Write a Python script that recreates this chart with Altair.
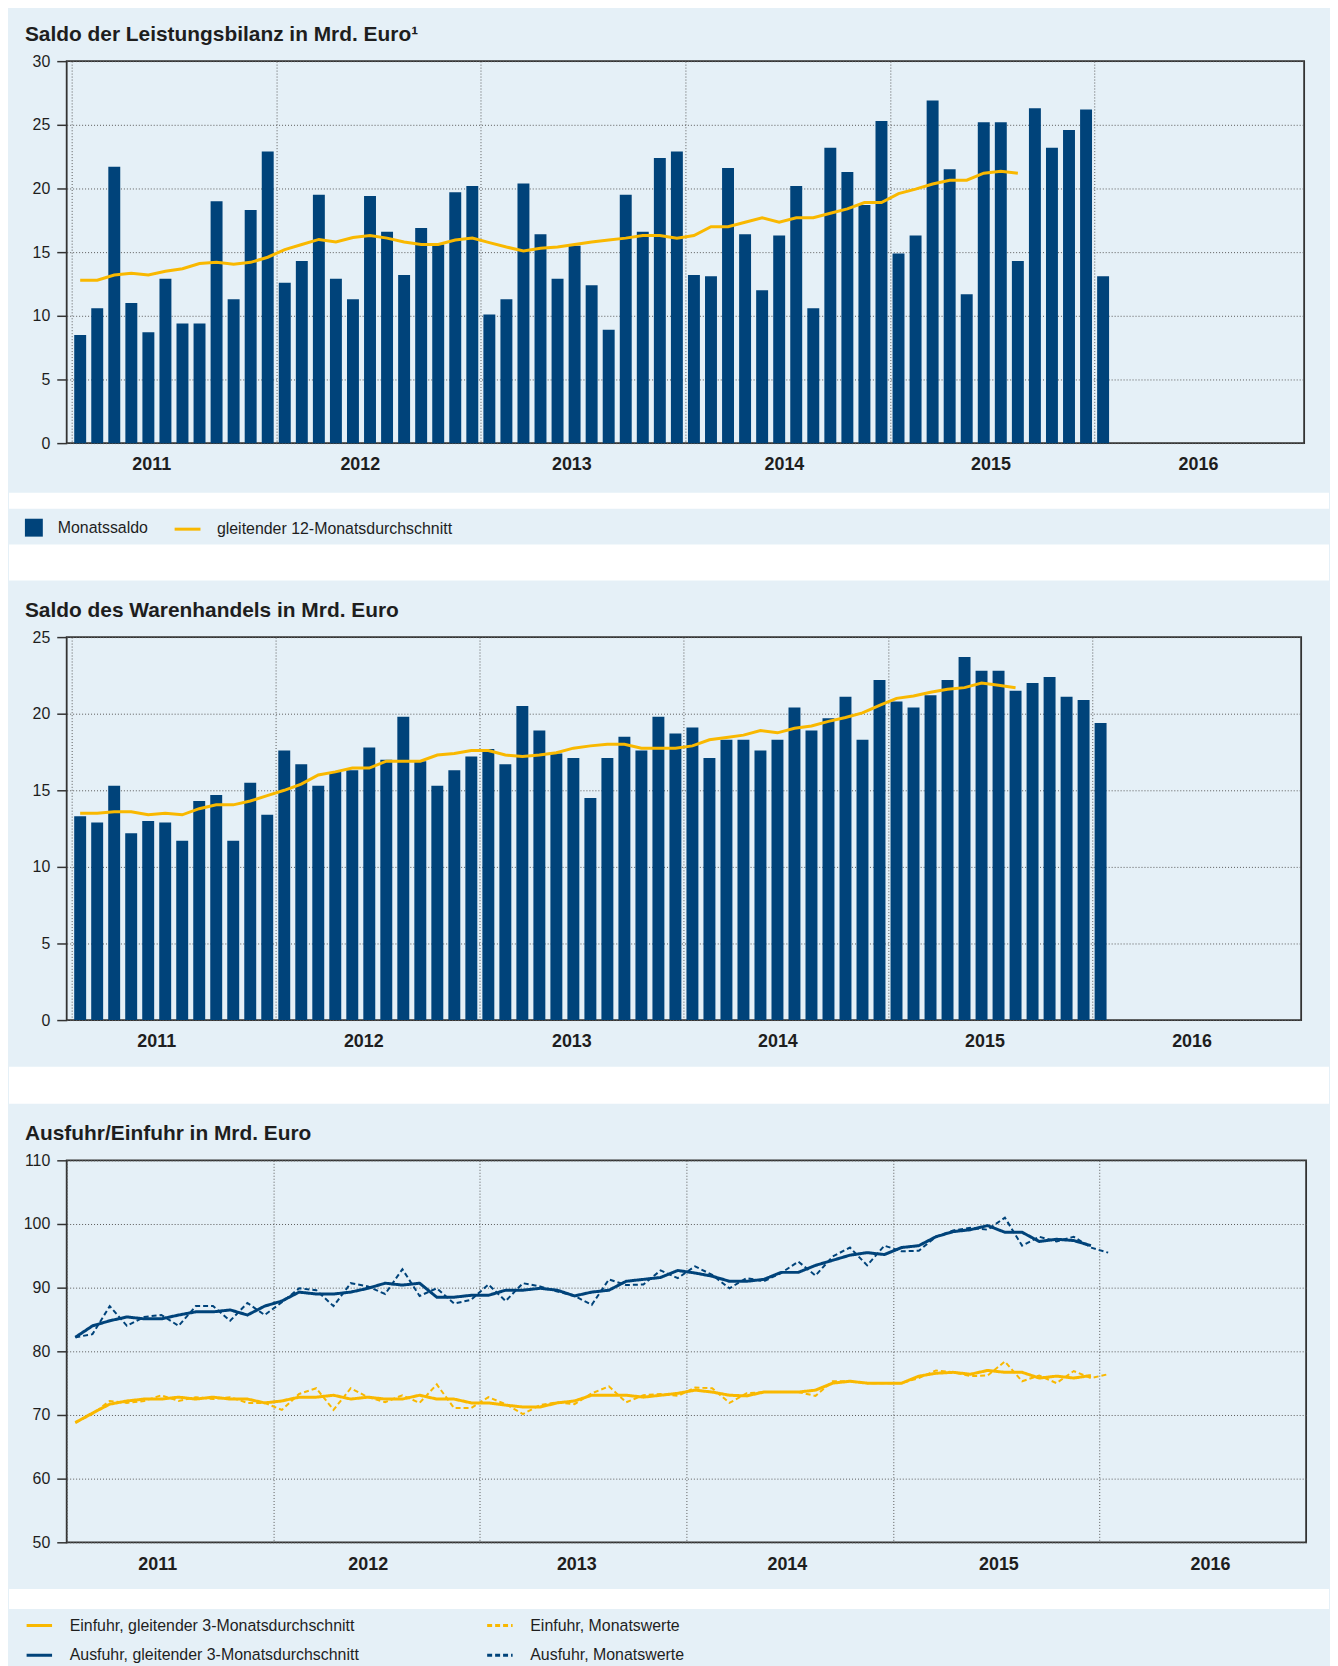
import altair as alt
import pandas as pd

# ---------------- colours / fonts ----------------
BLUE = "#00437a"
YELLOW = "#f9b800"
BG = "#e5f0f7"
TXT = "#1e1e1e"
GRID = "#5a5a5a"
FONT = "Liberation Sans"

# ---------------- data ----------------
year_labels = ["2011", "2012", "2013", "2014", "2015", "2016"]
year_starts = [0, 12, 24, 36, 48, 60]          # month index of each January

# Chart 1: Saldo der Leistungsbilanz (Jan 2011 - Jan 2016)
lb_month = [8.5, 10.6, 21.7, 11.0, 8.7, 12.9, 9.4, 9.4, 19.0, 11.3, 18.3, 22.9,
            12.6, 14.3, 19.5, 12.9, 11.3, 19.4, 16.6, 13.2, 16.9, 15.6, 19.7, 20.2,
            10.1, 11.3, 20.4, 16.4, 12.9, 15.5, 12.4, 8.9, 19.5, 16.6, 22.4, 22.9,
            13.2, 13.1, 21.6, 16.4, 12.0, 16.3, 20.2, 10.6, 23.2, 21.3, 18.7, 25.3,
            14.9, 16.3, 26.9, 21.5, 11.7, 25.2, 25.2, 14.3, 26.3, 23.2, 24.6, 26.2,
            13.1]
lb_ma12 = [12.8, 12.8, 13.2, 13.35, 13.2, 13.5, 13.7, 14.1, 14.2, 14.05, 14.2, 14.6,
           15.2, 15.6, 16.0, 15.8, 16.15, 16.3, 16.1, 15.8, 15.6, 15.6, 15.95, 16.1,
           15.75, 15.4, 15.1, 15.3, 15.4, 15.6, 15.8, 15.95, 16.1, 16.3, 16.3, 16.1,
           16.3, 17.0, 17.0, 17.35, 17.7, 17.35, 17.7, 17.7, 18.05, 18.4, 18.9, 18.9,
           19.6, 19.95, 20.35, 20.65, 20.65, 21.2, 21.35, 21.2]
lb_yticks = [0, 5, 10, 15, 20, 25, 30]

# Chart 2: Saldo des Warenhandels
wh_month = [13.3, 12.9, 15.3, 12.2, 13.0, 12.9, 11.7, 14.3, 14.7, 11.7, 15.5, 13.4,
            17.6, 16.7, 15.3, 16.2, 16.3, 17.8, 17.0, 19.8, 16.9, 15.3, 16.3, 17.2,
            17.7, 16.7, 20.5, 18.9, 17.4, 17.1, 14.5, 17.1, 18.5, 17.6, 19.8, 18.7,
            19.1, 17.1, 18.3, 18.3, 17.6, 18.3, 20.4, 18.9, 19.7, 21.1, 18.3, 22.2,
            20.8, 20.4, 21.2, 22.2, 23.7, 22.8, 22.8, 21.5, 22.0, 22.4, 21.1, 20.9,
            19.4]
wh_ma12 = [13.5, 13.5, 13.6, 13.6, 13.4, 13.5, 13.4, 13.8, 14.05, 14.05, 14.3, 14.65,
           15.0, 15.4, 16.0, 16.2, 16.45, 16.45, 16.9, 16.9, 16.9, 17.3, 17.4, 17.6,
           17.6, 17.3, 17.2, 17.3, 17.45, 17.75, 17.9, 18.0, 18.0, 17.75, 17.75, 17.75,
           17.9, 18.3, 18.45, 18.6, 18.9, 18.75, 19.05, 19.2, 19.5, 19.75, 20.05, 20.55,
           21.0, 21.15, 21.4, 21.6, 21.7, 22.0, 21.85, 21.7]
wh_yticks = [0, 5, 10, 15, 20, 25]

# Chart 3: Ausfuhr / Einfuhr
exp_month = [82.2, 82.7, 87.1, 84.0, 85.4, 85.7, 84.0, 87.1, 87.1, 84.8, 87.6, 85.7,
             87.7, 89.9, 89.6, 87.1, 90.7, 90.2, 89.0, 92.9, 88.7, 89.9, 87.5, 88.1,
             90.5, 87.9, 90.7, 90.2, 89.4, 88.7, 87.3, 91.3, 90.4, 90.5, 92.7, 91.5,
             93.35, 92.0, 89.9, 91.5, 91.0, 92.3, 94.1, 91.9, 94.9, 96.3, 93.5, 96.6,
             95.7, 95.8, 98.0, 99.0, 99.4, 99.1, 101.0, 96.6, 98.0, 97.25, 98.0, 96.3,
             95.5]
exp_ma3 = [82.2, 84.0, 84.8, 85.4, 85.1, 85.1, 85.7, 86.2, 86.2, 86.5, 85.7, 87.1,
           87.9, 89.3, 89.0, 89.0, 89.3, 89.9, 90.7, 90.4, 90.7, 88.5, 88.5, 88.8,
           88.8, 89.6, 89.6, 89.9, 89.6, 88.7, 89.3, 89.6, 91.0, 91.3, 91.6, 92.7,
           92.3, 91.8, 91.0, 91.0, 91.3, 92.4, 92.4, 93.5, 94.3, 95.1, 95.5, 95.2,
           96.3, 96.6, 98.0, 98.8, 99.1, 99.75, 98.7, 98.7, 97.25, 97.6, 97.4, 96.6]
imp_month = [68.8, 70.15, 72.2, 71.9, 72.2, 73.1, 72.2, 72.8, 72.5, 72.8, 71.9, 71.9,
             70.8, 73.3, 74.2, 70.8, 74.2, 72.8, 72.0, 73.1, 71.9, 74.8, 71.1, 71.1,
             72.8, 71.7, 70.15, 71.55, 72.0, 71.7, 73.4, 74.5, 72.0, 73.1, 73.3, 73.0,
             74.3, 74.2, 71.9, 73.4, 73.6, 73.6, 73.6, 73.0, 75.3, 75.3, 75.0, 75.0,
             75.0, 75.8, 77.0, 76.7, 76.1, 76.2, 78.4, 75.3, 76.2, 75.0, 76.9, 75.8,
             76.4]
imp_ma3 = [68.8, 70.3, 71.7, 72.2, 72.5, 72.5, 72.8, 72.5, 72.8, 72.5, 72.5, 71.9,
           72.2, 72.8, 72.8, 73.1, 72.5, 72.8, 72.5, 72.5, 73.1, 72.5, 72.5, 71.9,
           71.9, 71.55, 71.25, 71.25, 71.9, 72.2, 73.1, 73.1, 73.1, 72.8, 73.1, 73.4,
           73.9, 73.6, 73.1, 73.0, 73.6, 73.6, 73.6, 73.9, 75.0, 75.3, 75.0, 75.0,
           75.0, 76.1, 76.55, 76.7, 76.4, 77.0, 76.7, 76.7, 75.8, 76.1, 75.8, 76.2]
ae_yticks = [50, 60, 70, 80, 90, 100, 110]

titles = ["Saldo der Leistungsbilanz in Mrd. Euro\u00b9",
          "Saldo des Warenhandels in Mrd. Euro",
          "Ausfuhr/Einfuhr in Mrd. Euro"]
legend1_names = ["Monatssaldo", "gleitender 12-Monatsdurchschnitt"]
# legend order (filled column by column): solid lines first, then monthly values
legend3_names = ["Einfuhr, gleitender 3-Monatsdurchschnitt",
                 "Ausfuhr, gleitender 3-Monatsdurchschnitt",
                 "Einfuhr, Monatswerte", "Ausfuhr, Monatswerte"]


def frame(vals, series=None):
    df = pd.DataFrame({"t": [i + 0.5 for i in range(len(vals))], "v": vals})
    if series is not None:
        df["s"] = series
    return df


# ---------------- layout (pixels) ----------------
XL, XR = -58, 1269          # panel extent relative to the plot origin
W1, H1 = 1244, 384
W2, H2 = 1241, 385
W3, H3 = 1246, 384
# horizontal shift of each year label from its January gridline (layout only)
shift1 = [80, 84, 91, 99, 101, 104]
shift2 = [85, 88, 92, 94, 97, 100]
shift3 = [91, 95, 97, 101, 106, 111]
LINE_SYMBOL = "M-1.6,0H1.6"   # 26 px long legend line in a 16 px legend slot

label_expr = "[" + ",".join("'%s'" % y for y in year_labels) + "][round(datum.value / 12)]"


def x_enc(shifts):
    offset = {"condition": [{"test": "datum.value === %d" % v, "value": s}
                            for v, s in zip(year_starts, shifts)],
              "value": shifts[0]}
    return alt.X("t:Q", scale=alt.Scale(domain=[0, 72], nice=False, zero=False),
                 axis=alt.Axis(values=year_starts, labelExpr=label_expr, labelOffset=offset,
                               title=None, grid=True, gridDash=[1, 2], gridColor=GRID,
                               gridWidth=1, ticks=False, domain=False, labelFont=FONT,
                               labelFontSize=18, labelFontWeight="bold", labelColor=TXT,
                               labelPadding=13, labelFlush=False, labelOverlap=False))


def y_enc(ticks):
    return alt.Y("v:Q", scale=alt.Scale(domain=[ticks[0], ticks[-1]], nice=False, zero=False),
                 axis=alt.Axis(values=ticks, title=None, grid=True, gridDash=[1, 2],
                               gridColor=GRID, gridWidth=1, tickSize=10, tickColor="#333",
                               tickWidth=1.5, domain=False, labelFont=FONT, labelFontSize=16,
                               labelColor=TXT, labelPadding=7))


def band(y0, y1, color):
    return alt.Chart(alt.Data(values=[{"b": 0}])).mark_rect(color=color).encode(
        x=alt.value(XL), x2=alt.value(XR), y=alt.value(y0), y2=alt.value(y1))


def title(text):
    return alt.TitleParams(text=text, anchor="start", frame="group", dx=-42, font=FONT,
                           fontSize=21, fontWeight="bold", color=TXT, offset=-9,
                           baseline="alphabetic")


# ---------------- chart 1 ----------------
d1b = frame(lb_month, legend1_names[0])
d1l = frame(lb_ma12, legend1_names[1])

bars1 = alt.Chart(d1b).mark_bar(size=12).encode(
    x=x_enc(shift1), y=y_enc(lb_yticks),
    fill=alt.Fill("s:N", scale=alt.Scale(domain=[legend1_names[0]], range=[BLUE]),
                  legend=alt.Legend(title=None, orient="none", legendX=-42, legendY=460,
                                    symbolType="square", symbolSize=324, symbolStrokeWidth=0,
                                    labelFont=FONT, labelFontSize=16, labelColor=TXT,
                                    labelOffset=15, padding=0)))
line1 = alt.Chart(d1l).mark_line(strokeWidth=3).encode(
    x=x_enc(shift1), y=y_enc(lb_yticks),
    stroke=alt.Stroke("s:N", scale=alt.Scale(domain=[legend1_names[1]], range=[YELLOW]),
                      legend=alt.Legend(title=None, orient="none", legendX=107, legendY=456,
                                        symbolType="stroke", symbolSize=676,
                                        symbolStrokeWidth=3, labelFont=FONT,
                                        labelFontSize=16, labelColor=TXT, labelOffset=15,
                                        padding=0, labelLimit=0)))
c1 = alt.layer(
    band(434, 450, "white"), band(486, 522, "white"), bars1, line1
).properties(width=W1, height=H1, title=title(titles[0]))

# ---------------- chart 2 ----------------
bars2 = alt.Chart(frame(wh_month)).mark_bar(size=12, color=BLUE).encode(
    x=x_enc(shift2), y=y_enc(wh_yticks))
line2 = alt.Chart(frame(wh_ma12)).mark_line(strokeWidth=3, color=YELLOW).encode(
    x=x_enc(shift2), y=y_enc(wh_yticks))
c2 = alt.layer(
    band(432, 469, "white"), bars2, line2
).properties(width=W2, height=H2, title=title(titles[1]))

# ---------------- chart 3 ----------------
d3_dash = pd.concat([frame(imp_month, legend3_names[2]), frame(exp_month, legend3_names[3])])
d3_solid = pd.concat([frame(imp_ma3, legend3_names[0]), frame(exp_ma3, legend3_names[1])])

leg3 = alt.Legend(title=None, orient="none", legendX=-37, legendY=458, columns=2,
                  columnPadding=122, rowPadding=12, symbolType=LINE_SYMBOL, symbolSize=256,
                  symbolStrokeWidth=3, labelFont=FONT, labelFontSize=16, labelColor=TXT,
                  labelOffset=21, padding=0, labelLimit=0)
stroke3 = alt.Stroke("s:N", scale=alt.Scale(domain=legend3_names,
                                            range=[YELLOW, BLUE, YELLOW, BLUE]), legend=leg3)
dash3 = alt.StrokeDash("s:N", scale=alt.Scale(domain=legend3_names,
                                              range=[[1, 0], [1, 0], [5, 3], [5, 3]]),
                       legend=leg3)

dash_lines = alt.Chart(d3_dash).mark_line(strokeWidth=2).encode(
    x=x_enc(shift3), y=y_enc(ae_yticks), stroke=stroke3, strokeDash=dash3)
solid_lines = alt.Chart(d3_solid).mark_line(strokeWidth=3).encode(
    x=x_enc(shift3), y=y_enc(ae_yticks), stroke=stroke3, strokeDash=dash3)
c3 = alt.layer(
    band(431, 451, "white"), dash_lines, solid_lines
).properties(width=W3, height=H3, title=title(titles[2]))

chart = alt.vconcat(c1, c2, c3, spacing=18).resolve_scale(
    fill="independent", stroke="independent", strokeDash="independent"
).resolve_legend(
    fill="independent", stroke="independent", strokeDash="independent"
).configure(
    background=BG, padding={"left": 0, "top": 11, "right": 0, "bottom": 12}, font=FONT
).configure_view(stroke="#333", strokeWidth=1.8)

chart.save("out.html", embed_options={"renderer": "svg", "actions": False})
